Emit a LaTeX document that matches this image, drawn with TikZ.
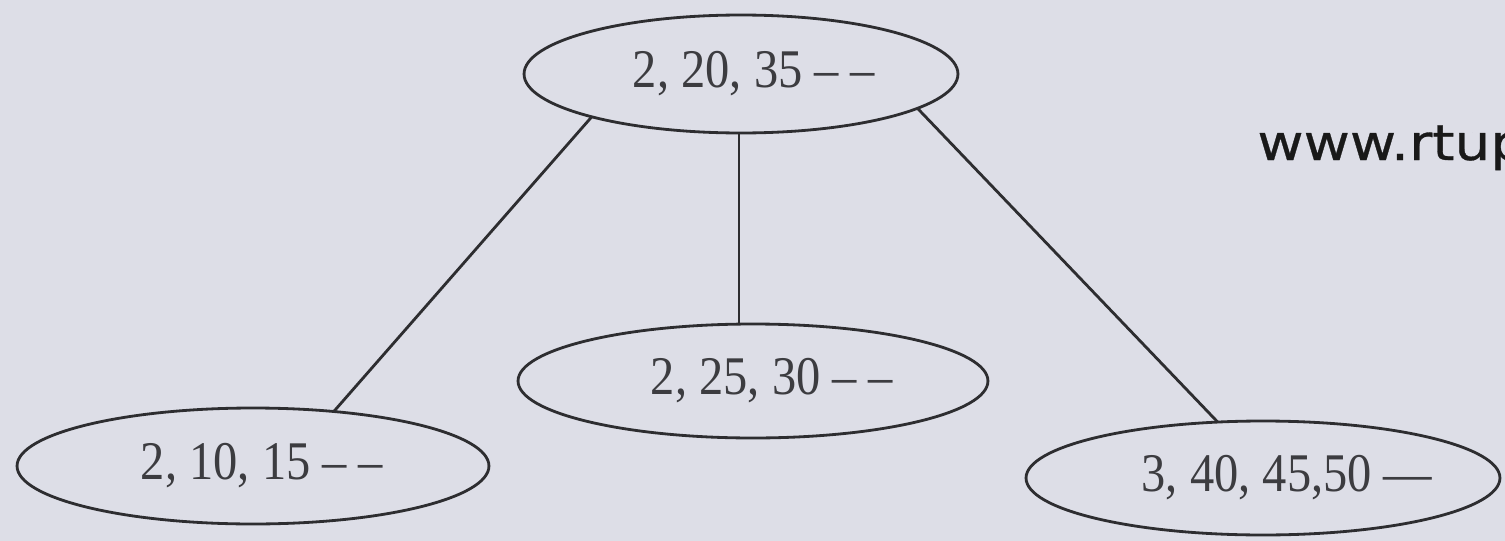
\documentclass[tikz,border=0pt]{standalone}
\usepackage{fontspec}
\usetikzlibrary{shapes.geometric}
\newfontfamily\labfont{Liberation Serif}[FakeStretch=0.89]
\newfontfamily\wmfont{DejaVu Sans}[FakeStretch=1.15,FakeBold=0.6]
\definecolor{bgcol}{RGB}{221,222,231}
\definecolor{inkcol}{RGB}{45,45,48}
\definecolor{txtcol}{RGB}{60,60,64}
\tikzset{
  keynode/.style={ellipse, draw=inkcol, line width=1.6pt, fill=bgcol, inner sep=0pt, outer sep=0pt,
    font=\labfont\fontsize{31}{36}\selectfont, text=txtcol},
  link/.style={draw=inkcol, line width=1.6pt},
  watermark/.style={font=\wmfont\fontsize{28}{32}\selectfont, text=black!90, inner sep=0pt, anchor=base west}
}
\newcommand{\shifted}[2]{\makebox[0pt][c]{\hspace*{#1}#2}}
\begin{document}
\begin{tikzpicture}[x=0.02cm,y=-0.02cm]
\fill[bgcol] (0,0) rectangle (1505,541);
\useasboundingbox (0,0) rectangle (1505,541);
\node[keynode, minimum width=8.68cm, minimum height=2.36cm] (top) at (741,74) {\shifted{0.52cm}{2, 20, 35 – –}};
\node[keynode, minimum width=9.44cm, minimum height=2.32cm] (bl) at (253,466) {\shifted{0.36cm}{2, 10, 15 – –}};
\node[keynode, minimum width=9.40cm, minimum height=2.28cm] (mid) at (753,381) {\shifted{0.76cm}{2, 25, 30 – –}};
\node[keynode, minimum width=9.48cm, minimum height=2.28cm] (br) at (1263,478) {\shifted{0.96cm}{3, 40, 45,50 —}};
\draw[link] (top.196) -- (bl.34);
\draw[link] (top.268) -- (top.268 |- mid.north);
\draw[link] (top.349) -- (br.129);
\node[watermark] (wm) at (1257,160) {www.rtup};
\end{tikzpicture}
\end{document}
